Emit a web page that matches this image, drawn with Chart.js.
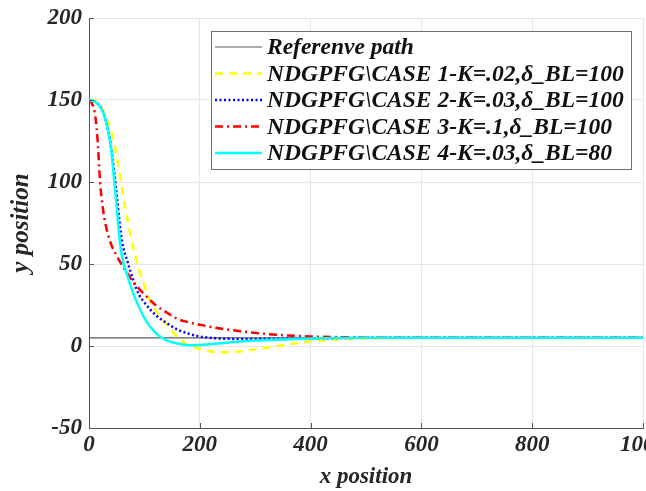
<!DOCTYPE html>
<html>
<head>
<meta charset="utf-8">
<script src="https://cdn.jsdelivr.net/npm/chart.js@4.4.1/dist/chart.umd.min.js"></script>
<style>
  html, body { margin: 0; padding: 0; background: #fff; }
</style>
</head>
<body>
<canvas id="pathChart" width="646" height="491"></canvas>
<script>
// data
var xTicks = [0, 200, 400, 600, 800, 1000];
var yTicks = [-50, 0, 50, 100, 150, 200];

var refX = [0, 1000];
var refY = [5, 5];

var case1X = [0, 10, 20, 30, 40, 50, 60, 70, 80, 90, 100, 110, 120, 140, 160, 180, 200, 225, 250, 275, 300, 350, 400, 450, 500, 600, 800, 1000];
var case1Y = [150, 149.5, 147, 140, 131, 116, 95, 76, 60, 47, 37, 28, 22, 13, 5.5, 0.5, -1.8, -3.5, -3.8, -3.2, -2, 0.5, 2.8, 4, 4.6, 5, 5, 5];

var case2X = [0, 10, 20, 30, 40, 50, 55, 60, 70, 80, 90, 100, 120, 140, 160, 180, 200, 225, 250, 300, 400, 500, 600, 800, 1000];
var case2Y = [150, 149, 146, 138, 121, 92, 76, 63, 51, 40, 31.5, 26.5, 19, 14, 10, 7.5, 5.8, 4.8, 4.4, 4.2, 4.6, 5, 5, 5, 5];

var case3X = [0, 5, 10, 15, 20, 25, 30, 40, 50, 60, 70, 80, 90, 100, 120, 140, 160, 180, 200, 225, 250, 300, 350, 400, 450, 500, 600, 800, 1000];
var case3Y = [150, 148, 143, 128, 100, 84, 74, 62, 55, 49, 44, 39, 35, 31.5, 25, 20.5, 16.5, 14.5, 13, 11.3, 10, 8, 6.6, 5.8, 5.4, 5.1, 5, 5, 5];

var case4X = [0, 10, 20, 30, 40, 45, 50, 55, 60, 70, 80, 90, 100, 120, 140, 160, 180, 200, 225, 250, 300, 350, 400, 500, 600, 800, 1000];
var case4Y = [150, 149, 146, 138, 120, 103, 85, 66, 54, 42, 32, 24, 17, 8, 3.5, 1.5, 0.5, 0.6, 1.3, 2, 3.3, 4, 4.6, 5, 5, 5, 5];

var seriesLabels = [
	"Referenve path",
	"NDGPFG\\CASE 1-K=.02,\u03b4_BL=100",
	"NDGPFG\\CASE 2-K=.03,\u03b4_BL=100",
	"NDGPFG\\CASE 3-K=.1,\u03b4_BL=100",
	"NDGPFG\\CASE 4-K=.03,\u03b4_BL=80"
];

function toPoints(xs, ys) {
	return xs.map(function (x, i) { return { x: x, y: ys[i] }; });
}

var serif = "'Liberation Serif', 'Times New Roman', serif";

// small inward tick marks like matlab axes
var innerTicks = {
	id: 'innerTicks',
	afterDatasetsDraw: function (chart) {
		var ctx = chart.ctx;
		var area = chart.chartArea;
		var sx = chart.scales.x, sy = chart.scales.y;
		ctx.save();
		ctx.strokeStyle = '#555';
		ctx.lineWidth = 1;
		ctx.beginPath();
		xTicks.forEach(function (v) {
			var px = Math.round(sx.getPixelForValue(v)) + 0.5;
			ctx.moveTo(px, area.bottom);
			ctx.lineTo(px, area.bottom - 5);
		});
		yTicks.forEach(function (v) {
			var py = Math.round(sy.getPixelForValue(v)) + 0.5;
			ctx.moveTo(area.left, py);
			ctx.lineTo(area.left + 5, py);
		});
		ctx.stroke();
		ctx.restore();
	}
};

// legend box drawn inside the plot, MATLAB style
var boxLegend = {
	id: 'boxLegend',
	afterDraw: function (chart) {
		var ctx = chart.ctx;
		var left = 211, top = 31, right = 632, bottom = 170;
		ctx.save();
		ctx.fillStyle = '#fff';
		ctx.fillRect(left, top, right - left, bottom - top);
		ctx.strokeStyle = '#6e6e6e';
		ctx.lineWidth = 1;
		ctx.strokeRect(left + 0.5, top + 0.5, right - left - 1, bottom - top - 1);
		ctx.font = 'italic bold 23.5px ' + serif;
		ctx.textBaseline = 'middle';
		ctx.fillStyle = '#111';
		chart.data.datasets.forEach(function (ds, i) {
			var y = 47 + i * 26.5;
			ctx.beginPath();
			ctx.setLineDash(ds.borderDash || []);
			ctx.strokeStyle = ds.borderColor;
			ctx.lineWidth = ds.borderWidth;
			ctx.moveTo(215, y);
			ctx.lineTo(262, y);
			ctx.stroke();
			ctx.setLineDash([]);
			ctx.fillText(ds.label, 267, y + 1);
		});
		ctx.restore();
	}
};

var tickFont = { family: serif, size: 23, style: 'italic', weight: 'bold' };

var ctx = document.getElementById("pathChart").getContext('2d');

var pathChart = new Chart(ctx, {
	type: 'line',
	data: {
		datasets: [
			{
				label: seriesLabels[0],
				data: toPoints(refX, refY),
				borderColor: '#5a5a5a',
				borderWidth: 1.2,
				order: 5
			},
			{
				label: seriesLabels[1],
				data: toPoints(case1X, case1Y),
				borderColor: '#ffff00',
				borderWidth: 2.5,
				borderDash: [8, 6],
				order: 4
			},
			{
				label: seriesLabels[2],
				data: toPoints(case2X, case2Y),
				borderColor: '#0000ff',
				borderWidth: 2.5,
				borderDash: [2, 2.5],
				order: 3
			},
			{
				label: seriesLabels[3],
				data: toPoints(case3X, case3Y),
				borderColor: '#ff0000',
				borderWidth: 2.5,
				borderDash: [8, 4, 2, 4],
				order: 2
			},
			{
				label: seriesLabels[4],
				data: toPoints(case4X, case4Y),
				borderColor: '#00ffff',
				borderWidth: 2.5,
				order: 1
			}
		]
	},
	options: {
		responsive: false,
		animation: false,
		devicePixelRatio: 1,
		layout: { padding: { top: 18, right: 3, left: 0, bottom: 0 } },
		elements: {
			point: { radius: 0 },
			line: { cubicInterpolationMode: 'monotone', fill: false }
		},
		plugins: {
			legend: { display: false },
			tooltip: { enabled: false }
		},
		scales: {
			x: {
				type: 'linear',
				min: 0,
				max: 1000,
				afterBuildTicks: function (scale) {
					scale.ticks = xTicks.map(function (v) { return { value: v }; });
				},
				afterFit: function (scale) {
					scale.height = 63;
					scale.paddingLeft = 0;
					scale.paddingRight = 0;
				},
				grid: { color: '#e6e6e6', drawTicks: false },
				border: { color: '#555', width: 1 },
				ticks: {
					color: '#262626',
					padding: 3,
					maxRotation: 0,
					font: tickFont,
					callback: function (v) { return String(v); }
				},
				title: {
					display: true,
					text: 'x position',
					color: '#262626',
					padding: 0,
					font: { family: serif, size: 23, style: 'italic', weight: 'bold' }
				}
			},
			y: {
				type: 'linear',
				min: -50,
				max: 200,
				afterBuildTicks: function (scale) {
					scale.ticks = yTicks.map(function (v) { return { value: v }; });
				},
				afterFit: function (scale) {
					scale.width = 89;
					scale.paddingTop = 0;
					scale.paddingBottom = 0;
				},
				grid: { color: '#e6e6e6', drawTicks: false },
				border: { color: '#555', width: 1 },
				ticks: {
					color: '#262626',
					padding: 7,
					font: tickFont,
					callback: function (v) { return String(v); }
				},
				title: {
					display: true,
					text: 'y position',
					color: '#262626',
					padding: 7,
					font: { family: serif, size: 25, style: 'italic', weight: 'bold' }
				}
			}
		}
	},
	plugins: [innerTicks, boxLegend]
});
</script>
</body>
</html>
